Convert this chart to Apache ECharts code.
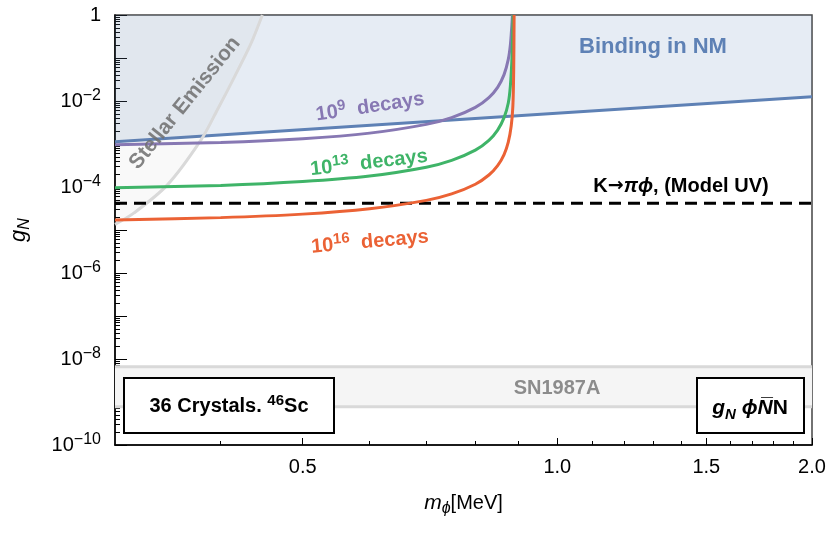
<!DOCTYPE html>
<html>
<head>
<meta charset="utf-8">
<script src="https://cdn.jsdelivr.net/npm/echarts@6/dist/echarts.min.js"></script>
<style>
  html, body { margin: 0; padding: 0; background: #fff; }
  #chart { width: 830px; height: 535px; }
</style>
</head>
<body>
<div id="chart"></div>
<script>
// axis ticks
const xMajorTicks = [0.5, 1.0, 1.5, 2.0];
const xMinorTicks = [0.4, 0.6, 0.7, 0.8, 0.9, 1.1, 1.2, 1.3, 1.4, 1.6, 1.7, 1.8, 1.9];
const yMajorTicks = [1e-10, 1e-9, 1e-8, 1e-7, 1e-6, 1e-5, 1e-4, 1e-3, 1e-2, 1e-1, 1];
const yLabelTicks = [1e-10, 1e-8, 1e-6, 1e-4, 1e-2, 1];
const yMinorTicks = [];
for (let e = -10; e < 0; e++) {
  for (let k = 2; k <= 9; k++) yMinorTicks.push(k * Math.pow(10, e));
}

// Binding in NM (bound from below)
const bindingX = [0.3, 2.0];
const bindingY = [1.13e-3, 1.26e-2];

// Stellar emission (excluded region on the left)
const stellarX = [0.30, 0.316, 0.346, 0.379, 0.396, 0.415, 0.434, 0.448];
const stellarY = [1.35e-5, 2.5e-5, 1.12e-4, 1.23e-3, 6.0e-3, 3.55e-2, 0.209, 1.0];

// SN1987A band
const snLow = 7.8e-10;
const snHigh = 6.6e-9;

// K -> pi phi (Model UV)
const kaonLevel = 4.2e-5;

// sensitivity curves
const decay9X = [0.30, 0.40, 0.50, 0.60, 0.70, 0.75, 0.80, 0.83, 0.85, 0.865, 0.875, 0.880, 0.883, 0.885];
const decay9Y = [9.55e-4, 1.09e-3, 1.33e-3, 1.79e-3, 2.86e-3, 4.10e-3, 7.10e-3, 1.20e-2, 2.08e-2, 4.11e-2, 9.31e-2, 0.202, 0.485, 1.0];

const decay13X = [0.30, 0.40, 0.50, 0.60, 0.70, 0.75, 0.80, 0.83, 0.85, 0.865, 0.875, 0.880, 0.884, 0.8865];
const decay13Y = [9.55e-5, 1.09e-4, 1.34e-4, 1.80e-4, 2.89e-4, 4.17e-4, 7.23e-4, 1.22e-3, 2.11e-3, 4.11e-3, 8.95e-3, 2.24e-2, 0.112, 1.0];

const decay16X = [0.30, 0.40, 0.50, 0.60, 0.70, 0.75, 0.80, 0.83, 0.85, 0.865, 0.875, 0.882, 0.886, 0.888, 0.889];
const decay16Y = [1.70e-5, 1.94e-5, 2.34e-5, 3.12e-5, 4.89e-5, 6.90e-5, 1.16e-4, 1.90e-4, 3.14e-4, 5.69e-4, 1.11e-3, 2.62e-3, 7.62e-3, 5.0e-2, 1.0];

const xMin = 0.3;
const xMax = 2.0;

function pairs(xs, ys) {
  return xs.map((x, i) => [x, ys[i]]);
}

const FONT = 'Liberation Sans, Arial, sans-serif';
const supRich = {
  b: { fontSize: 20, lineHeight: 26, fontFamily: FONT, fontWeight: 'bold', verticalAlign: 'middle' },
  s: { fontSize: 15, lineHeight: 17, fontFamily: FONT, fontWeight: 'bold', verticalAlign: 'top' }
};

const chart = echarts.init(document.getElementById('chart'));

const option = {
  animation: false,
  grid: {
    left: 115, right: 18, top: 15, bottom: 90,
    show: true, borderColor: '#444', borderWidth: 1.5
  },
  xAxis: [
    {
      type: 'log', logBase: 10, min: xMin, max: xMax,
      axisLine: { onZero: false, lineStyle: { color: '#000', width: 1.5 } },
      axisTick: { inside: true, length: 7, customValues: xMajorTicks, lineStyle: { color: '#000', width: 1 } },
      axisLabel: {
        customValues: xMajorTicks, fontSize: 20, fontFamily: FONT, color: '#000', margin: 12,
        formatter: v => Number(v).toFixed(1)
      },
      splitLine: { show: false },
      name: '{i|m}{sub|ϕ}{r|[MeV]}',
      nameLocation: 'middle', nameGap: 44,
      nameTextStyle: {
        rich: {
          i: { fontSize: 21, fontStyle: 'italic', fontFamily: FONT, color: '#000', lineHeight: 28 },
          sub: { fontSize: 16, fontStyle: 'italic', fontFamily: FONT, color: '#000', lineHeight: 14, verticalAlign: 'bottom' },
          r: { fontSize: 20, fontFamily: FONT, color: '#000', lineHeight: 28 }
        }
      }
    },
    {
      type: 'log', logBase: 10, min: xMin, max: xMax, position: 'bottom',
      axisLine: { show: false, onZero: false },
      axisTick: { inside: true, length: 4, customValues: xMinorTicks, lineStyle: { color: '#000', width: 1 } },
      axisLabel: { show: false },
      splitLine: { show: false }
    }
  ],
  yAxis: [
    {
      type: 'log', logBase: 10, min: 1e-10, max: 1, position: 'left',
      axisLine: { onZero: false, lineStyle: { color: '#000', width: 1.5 } },
      axisTick: { inside: true, length: 12, customValues: yMajorTicks, lineStyle: { color: '#000', width: 1 } },
      axisLabel: {
        customValues: yLabelTicks, margin: 14, color: '#000',
        formatter: v => {
          const e = Math.round(Math.log10(v));
          return e === 0 ? '{b|1}' : '{b|10}{s|−' + (-e) + '}';
        },
        rich: {
          b: { fontSize: 20, lineHeight: 26, fontFamily: FONT, color: '#000' },
          s: { fontSize: 16, lineHeight: 17, fontFamily: FONT, color: '#000', verticalAlign: 'top' }
        }
      },
      splitLine: { show: false },
      name: '{i|g}{sub|N}',
      nameLocation: 'middle', nameRotate: 90, nameGap: 82,
      nameTextStyle: {
        rich: {
          i: { fontSize: 22, fontStyle: 'italic', fontFamily: FONT, color: '#000', lineHeight: 28 },
          sub: { fontSize: 16, fontStyle: 'italic', fontFamily: FONT, color: '#000', lineHeight: 14, verticalAlign: 'bottom' }
        }
      }
    },
    {
      type: 'log', logBase: 10, min: 1e-10, max: 1, position: 'left',
      axisLine: { show: false, onZero: false },
      axisTick: { inside: true, length: 5, customValues: yMinorTicks, lineStyle: { color: '#000', width: 1 } },
      axisLabel: { show: false },
      splitLine: { show: false }
    }
  ],
  series: [
    {
      name: 'Binding in NM', type: 'line', data: pairs(bindingX, bindingY),
      showSymbol: false, lineStyle: { color: '#5E81B5', width: 3 },
      areaStyle: { origin: 'end', color: 'rgba(94,129,181,0.22)' }, z: 1
    },
    {
      name: 'Stellar Emission', type: 'line', data: pairs(stellarX, stellarY),
      showSymbol: false, smooth: 0.3,
      lineStyle: { color: '#d9d9d9', width: 3 },
      areaStyle: { origin: 'end', color: 'rgba(128,128,128,0.065)' }, z: 2
    },
    {
      name: 'SN1987A high', type: 'line', data: pairs([xMin, xMax], [snHigh, snHigh]),
      showSymbol: false, lineStyle: { color: '#d9d9d9', width: 3 },
      markArea: {
        silent: true,
        itemStyle: { color: '#f5f5f5' },
        data: [[{ yAxis: snLow }, { yAxis: snHigh }]]
      }, z: 2
    },
    {
      name: 'SN1987A low', type: 'line', data: pairs([xMin, xMax], [snLow, snLow]),
      showSymbol: false, lineStyle: { color: '#d9d9d9', width: 3 }, z: 2
    },
    {
      name: 'K to pi phi', type: 'line', data: pairs([xMin, xMax], [kaonLevel, kaonLevel]),
      showSymbol: false, lineStyle: { color: '#000', width: 3, type: [12, 7] }, z: 3
    },
    {
      name: '1e9 decays', type: 'line', data: pairs(decay9X, decay9Y),
      showSymbol: false, smooth: 0.3,
      lineStyle: { color: '#8778B3', width: 3 }, z: 4
    },
    {
      name: '1e13 decays', type: 'line', data: pairs(decay13X, decay13Y),
      showSymbol: false, smooth: 0.3,
      lineStyle: { color: '#3FB468', width: 3 }, z: 4
    },
    {
      name: '1e16 decays', type: 'line', data: pairs(decay16X, decay16Y),
      showSymbol: false, smooth: 0.3,
      lineStyle: { color: '#EB6235', width: 3 }, z: 4
    }
  ],
  graphic: [
    {
      type: 'text', x: 653, y: 47, z: 10,
      style: { text: 'Binding in NM', fill: '#5E81B5', font: 'bold 22px ' + FONT, align: 'center', verticalAlign: 'middle' }
    },
    {
      type: 'text', x: 370, y: 107, rotation: 8.5 * Math.PI / 180, z: 10,
      style: { text: '{b|10}{s|9}{b|  decays}', rich: supRich, fill: '#8778B3', align: 'center', verticalAlign: 'middle' }
    },
    {
      type: 'text', x: 369, y: 163, rotation: 6.5 * Math.PI / 180, z: 10,
      style: { text: '{b|10}{s|13}{b|  decays}', rich: supRich, fill: '#3FB468', align: 'center', verticalAlign: 'middle' }
    },
    {
      type: 'text', x: 370, y: 242, rotation: 5 * Math.PI / 180, z: 10,
      style: { text: '{b|10}{s|16}{b|  decays}', rich: supRich, fill: '#EB6235', align: 'center', verticalAlign: 'middle' }
    },
    {
      type: 'text', x: 681, y: 186, z: 10,
      style: {
        text: '{b|K}{a|→}{i|πϕ}{b|, (Model UV)}', align: 'center', verticalAlign: 'middle', fill: '#000',
        rich: {
          b: { fontSize: 20, fontWeight: 'bold', fontFamily: FONT },
          a: { fontSize: 19, fontWeight: 'bold', fontFamily: 'DejaVu Sans' },
          i: { fontSize: 20, fontWeight: 'bold', fontStyle: 'italic', fontFamily: FONT }
        }
      }
    },
    {
      type: 'text', x: 185, y: 103, rotation: 51 * Math.PI / 180, z: 10,
      style: { text: 'Stellar Emission', fill: 'rgba(110,110,110,0.85)', font: 'bold 21px ' + FONT, align: 'center', verticalAlign: 'middle' }
    },
    {
      type: 'text', x: 557, y: 388, z: 10,
      style: { text: 'SN1987A', fill: '#8c8c8c', font: 'bold 20px ' + FONT, align: 'center', verticalAlign: 'middle' }
    },
    {
      type: 'rect', z: 10,
      shape: { x: 124, y: 378, width: 210, height: 55 },
      style: { fill: '#fff', stroke: '#000', lineWidth: 2 }
    },
    {
      type: 'text', x: 229, y: 406, z: 11,
      style: { text: '{b|36 Crystals. }{s|46}{b|Sc}', rich: supRich, fill: '#000', align: 'center', verticalAlign: 'middle' }
    },
    {
      type: 'rect', z: 10,
      shape: { x: 697, y: 378, width: 107, height: 55 },
      style: { fill: '#fff', stroke: '#000', lineWidth: 2 }
    },
    {
      type: 'text', x: 750, y: 408, z: 11,
      style: {
        text: '{i|g}{sub|N}{i| ϕN\u0305}{b|N}', align: 'center', verticalAlign: 'middle', fill: '#000',
        rich: {
          i: { fontSize: 21, fontWeight: 'bold', fontStyle: 'italic', fontFamily: FONT, lineHeight: 28 },
          sub: { fontSize: 15, fontWeight: 'bold', fontStyle: 'italic', fontFamily: FONT, lineHeight: 14, verticalAlign: 'bottom' },
          b: { fontSize: 21, fontWeight: 'bold', fontFamily: FONT, lineHeight: 28 }
        }
      }
    }
  ]
};

chart.setOption(option);
</script>
</body>
</html>
